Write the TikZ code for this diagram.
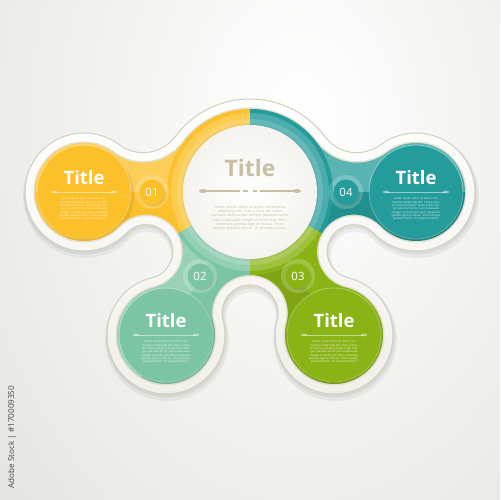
\documentclass[tikz,border=0pt]{standalone}
\usepackage{fontspec}
\setmainfont{Open Sans}
\usetikzlibrary{positioning}

\definecolor{cyellow}{RGB}{252,193,42}
\definecolor{cteal}{RGB}{36,156,155}
\definecolor{cmint}{RGB}{124,197,164}
\definecolor{clime}{RGB}{138,180,22}
\definecolor{rimedge}{RGB}{212,206,186}
\definecolor{riminner}{RGB}{228,224,208}
\definecolor{rimlow}{RGB}{240,239,234}
\definecolor{ctitle}{RGB}{200,191,163}
\definecolor{bgouter}{RGB}{226,226,222}
\definecolor{ccredit}{RGB}{70,70,70}
\definecolor{cdisc}{RGB}{244,243,238}

% outline of the whole blob, grown by #1
\newcommand\blobpath[1]{%
  ([shift={(36.6:{83+(#1)})}]cm) arc[start angle=36.6, end angle=143.4, radius={83+(#1)}]
  -- ([shift={(-36.6:{50-(#1)})}]ftl) arc[start angle=-36.6, end angle=-126.7, radius={50-(#1)}]
  -- ([shift={(53.3:{49+(#1)})}]lt) arc[start angle=53.3, end angle=316.2, radius={49+(#1)}]
  -- ([shift={(136.2:{36.9-(#1)})}]fnl) arc[start angle=136.2, end angle=-76.5, radius={36.9-(#1)}]
  -- ([shift={(103.5:{49+(#1)})}]bl) arc[start angle=103.5, end angle=374.7, radius={49+(#1)}]
  -- ([shift={(194.7:{37.9-(#1)})}]fb) arc[start angle=194.7, end angle=-14.7, radius={37.9-(#1)}]
  -- ([shift={(165.3:{49+(#1)})}]br) arc[start angle=165.3, end angle=436.5, radius={49+(#1)}]
  -- ([shift={(256.5:{36.9-(#1)})}]fnr) arc[start angle=256.5, end angle=43.8, radius={36.9-(#1)}]
  -- ([shift={(223.8:{49+(#1)})}]rt) arc[start angle=223.8, end angle=486.7, radius={49+(#1)}]
  -- ([shift={(306.7:{50-(#1)})}]ftr) arc[start angle=306.7, end angle=216.6, radius={50-(#1)}]
  -- cycle}
\newcommand\sectorpath[2]{(cm) -- ++(#1:300) arc[start angle=#1, end angle=#2, radius=300] -- cycle}
\newcommand\loremtext{Lorem ipsum dolor sit amet, consectetur adipiscing elit. Cras a risus vel metus posuere ullamcorper tempor placerat tortor non malesuada integer et enim quis nunc venenatis gravida eget et massa. Proin tempor placerat tortor. Ut pharetra tortor.}

\tikzset{
  lobetitle/.style={text=white, font=\bfseries\fontsize{10.5}{11}\selectfont},
  lobelorem/.style={text=white, text opacity=.85, text width=1.1cm, align=center, inner sep=0pt, font=\fontsize{1.6}{1.9}\selectfont},
  numlabel/.style={text=white, font=\fontsize{6.5}{7}\selectfont},
  divline/.style={white, opacity=.5, line width=.5},
}

\begin{document}
\begin{tikzpicture}[x=0.02cm, y=0.02cm]
\useasboundingbox (0,0) rectangle (500,500);
% centres of lobes, fillets and number discs
\coordinate (cm) at (250,308);
\coordinate (lt) at (84,308);
\coordinate (rt) at (416,308);
\coordinate (bl) at (166,165);
\coordinate (br) at (334,165);
\coordinate (ftl) at (143.2,387.3);
\coordinate (ftr) at (356.8,387.3);
\coordinate (fnl) at (146,248.5);
\coordinate (fnr) at (354,248.5);
\coordinate (fb) at (250,187.1);
\coordinate (n1) at (152,308);
\coordinate (n2) at (200,224);
\coordinate (n3) at (298,224);
\coordinate (n4) at (346,308);

% background
\begin{scope}
  \clip (0,0) rectangle (500,500);
  \shade[inner color=white, outer color=bgouter] (-150,-250) rectangle (750,1000);
\end{scope}

% soft shadow
\begin{scope}[transform canvas={shift={(1,-4)}}]
  \fill[black, opacity=.05] \blobpath{13};
\end{scope}
\begin{scope}[transform canvas={shift={(0.5,-2)}}]
  \fill[black, opacity=.06] \blobpath{11.5};
\end{scope}

% rim
\fill[rimedge] \blobpath{10.5};
\shade[top color=white, bottom color=rimlow] \blobpath{9.4};
\fill[riminner] \blobpath{1.5};

% coloured parts
\begin{scope}
  \clip \blobpath{0};
  \fill[cyellow] \sectorpath{90}{209.8};
  \fill[cmint] \sectorpath{209.8}{270};
  \fill[clime] \sectorpath{270}{330.2};
  \fill[cteal] \sectorpath{330.2}{450};
  \fill[white, opacity=.22] \sectorpath{90}{180};
  \fill[white, opacity=.25] \sectorpath{0}{90};
  \fill[white, opacity=.22] \sectorpath{209.8}{239.6};
  \fill[black, opacity=.08] \sectorpath{270}{300.4};
  \fill[black, opacity=.08] \sectorpath{330.2}{360};
  \foreach \pos in {lt,bl,br,rt}
    \fill[black, opacity=.07] ([shift={(3,-3)}]\pos) circle (47);
  \clip (cm) circle (83);
  \fill[cyellow] \sectorpath{90}{209.8};
  \fill[cmint] \sectorpath{209.8}{270};
  \fill[clime] \sectorpath{270}{330.2};
  \fill[cteal] \sectorpath{330.2}{450};
\end{scope}

% lobes
\foreach \pos/\col/\nd/\k in {lt/cyellow/n1/01, bl/cmint/n2/02, br/clime/n3/03, rt/cteal/n4/04}{
  \fill[\col] (\pos) circle (46.5);
  \draw[white, opacity=.3, line width=.5] (\pos) circle (47);
  \fill[white, opacity=.2] (\nd) circle (17);
  \fill[black, opacity=.08] ([shift={(1.5,-2)}]\nd) circle (12.5);
  \fill[\col] (\nd) circle (12.5);
  \node[numlabel] (num\k) at (\nd) {\k};
  \node[lobetitle] (title\k) at ([shift={(0,14)}]\pos) {Title};
  \draw[divline] ([shift={(-29,0)}]\pos) -- ([shift={(29,0)}]\pos);
  \fill[white, opacity=.5] ([shift={(-30,0)}]\pos) ellipse (3 and 1.3) ([shift={(30,0)}]\pos) ellipse (3 and 1.3);
  \node[lobelorem] (lorem\k) at ([shift={(0,-17)}]\pos) {\loremtext};
}

% centre disc
\fill[white, opacity=.18] (cm) circle (79);
\fill[white, opacity=.15] (cm) circle (73);
\fill[black, opacity=.05] (cm) circle (68.5);
\shade[inner color=white, outer color=cdisc] (cm) circle (67);
\node[text=ctitle, font=\bfseries\fontsize{13}{14}\selectfont] (maintitle) at ([shift={(0,24)}]cm) {Title};
\draw[ctitle, line width=.85] ([shift={(-47,1)}]cm) -- ([shift={(-10,1)}]cm);
\draw[ctitle, line width=.85] ([shift={(-7,1)}]cm) -- ([shift={(-2.5,1)}]cm);
\draw[ctitle, line width=.85] ([shift={(2.5,1)}]cm) -- ([shift={(7,1)}]cm);
\draw[ctitle, line width=.85] ([shift={(10,1)}]cm) -- ([shift={(47,1)}]cm);
\fill[ctitle] ([shift={(-47,1)}]cm) ellipse (4 and 2) ([shift={(47,1)}]cm) ellipse (4 and 2);
\node[text=ctitle, text width=1.55cm, align=center, inner sep=0pt, font=\fontsize{2.1}{2.45}\selectfont] (mainlorem) at ([shift={(0,-26)}]cm) {\loremtext};

% stock id
\node[rotate=90, text=ccredit, font=\fontsize{4.6}{5}\selectfont] (credit) at (12,63) {Adobe Stock | \#170009350};
\end{tikzpicture}
\end{document}
